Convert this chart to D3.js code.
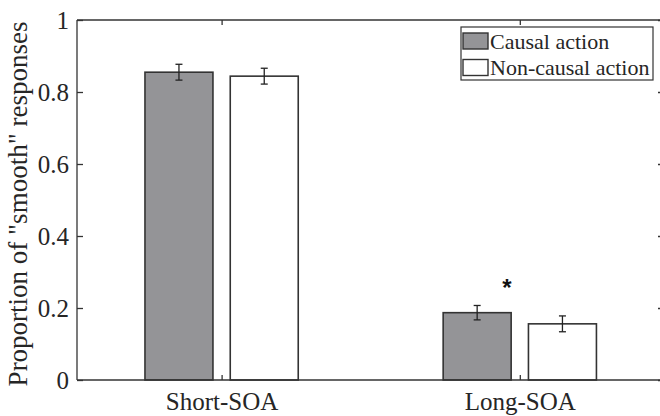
<!DOCTYPE html>
<html><head><meta charset="utf-8">
<script src="https://cdn.jsdelivr.net/npm/d3@7"></script>
<style>html,body{margin:0;padding:0;background:#fff;}svg{display:block;}
.serif{font-family:"Liberation Serif","Times New Roman",Times,"Nimbus Roman","DejaVu Serif",serif;}
</style>
</head><body>
<script>
const categories = ["Short-SOA", "Long-SOA"];
const seriesNames = ["Causal action", "Non-causal action"];
const causalValues = [0.855, 0.187];
const causalErrors = [0.022, 0.020];
const noncausalValues = [0.844, 0.156];
const noncausalErrors = [0.022, 0.022];
const yTicks = [0, 0.2, 0.4, 0.6, 0.8, 1];
const yTickLabels = ["0", "0.2", "0.4", "0.6", "0.8", "1"];
const yLabel = 'Proportion of "smooth" responses';
const significance = ["", "*"];

(function () {
const W = 660, H = 416;
const axisColor = "#333";
const textColor = "#262626";
const fills = ["#949497", "#ffffff"];

const svg = d3.select("body").append("svg").attr("width", W).attr("height", H);

const mLeft = 77, mRight = 664, mTop = 20, mBottom = 380;
const x = d3.scaleLinear().domain([1, 2]).range([221.6, 519.8]);
const y = d3.scaleLinear().domain([0, 1]).range([mBottom, mTop]);
const unit = x(2) - x(1);
const offsets = [-0.143, 0.143];
const barW = 0.228;

const series = [
  {name: seriesNames[0], values: causalValues, errs: causalErrors, fill: fills[0]},
  {name: seriesNames[1], values: noncausalValues, errs: noncausalErrors, fill: fills[1]}
];

series.forEach((s, si) => {
  const g = svg.append("g");
  g.selectAll("rect").data(s.values).join("rect")
    .attr("x", (d, i) => x(i + 1 + offsets[si] - barW / 2))
    .attr("width", barW * unit)
    .attr("y", d => y(d))
    .attr("height", d => y(0) - y(d))
    .attr("fill", s.fill)
    .attr("stroke", axisColor)
    .attr("stroke-width", 1.6);
  s.values.forEach((v, i) => {
    const cx = x(i + 1 + offsets[si]);
    const e = s.errs[i];
    const eg = svg.append("g").attr("stroke", "#222").attr("stroke-width", 1.3);
    eg.append("line").attr("x1", cx).attr("x2", cx).attr("y1", y(v - e)).attr("y2", y(v + e));
    eg.append("line").attr("x1", cx - 3.5).attr("x2", cx + 3.5).attr("y1", y(v - e)).attr("y2", y(v - e));
    eg.append("line").attr("x1", cx - 3.5).attr("x2", cx + 3.5).attr("y1", y(v + e)).attr("y2", y(v + e));
  });
});

const box = svg.append("g").attr("stroke", axisColor).attr("stroke-width", 1.3).attr("fill", "none");
box.append("line").attr("x1", mLeft).attr("x2", mRight).attr("y1", mBottom).attr("y2", mBottom);
box.append("line").attr("x1", mLeft).attr("x2", mRight).attr("y1", mTop).attr("y2", mTop);
box.append("line").attr("x1", mLeft).attr("x2", mLeft).attr("y1", mTop).attr("y2", mBottom);
box.append("line").attr("x1", mRight).attr("x2", mRight).attr("y1", mTop).attr("y2", mBottom);

const yAxis = d3.axisLeft(y).tickValues(yTicks).tickFormat((d, i) => yTickLabels[i]).tickSizeInner(-6).tickSizeOuter(0).tickPadding(8);
const ya = svg.append("g").attr("transform", `translate(${mLeft},0)`).call(yAxis);
ya.attr("font-family", null).attr("font-size", null);
ya.select(".domain").remove();
ya.selectAll(".tick line").attr("stroke", axisColor).attr("stroke-width", 1.3);
ya.selectAll(".tick text").attr("class", "serif").style("font-size", "25px").attr("fill", textColor);

const yAxisR = d3.axisRight(y).tickValues(yTicks).tickFormat("").tickSizeInner(-6).tickSizeOuter(0);
const yr = svg.append("g").attr("transform", `translate(${mRight},0)`).call(yAxisR);
yr.select(".domain").remove();
yr.selectAll(".tick line").attr("stroke", axisColor).attr("stroke-width", 1.3);

const xAxis = d3.axisBottom(x).tickValues([1, 2]).tickFormat((d, i) => categories[i]).tickSizeInner(-5).tickSizeOuter(0).tickPadding(12);
const xa = svg.append("g").attr("transform", `translate(0,${mBottom})`).call(xAxis);
xa.attr("font-family", null).attr("font-size", null);
xa.select(".domain").remove();
xa.selectAll(".tick line").attr("stroke", axisColor).attr("stroke-width", 1.3);
xa.selectAll(".tick text").attr("class", "serif").style("font-size", "25px").attr("fill", textColor);

const xAxisT = d3.axisTop(x).tickValues([1, 2]).tickFormat("").tickSizeInner(-5).tickSizeOuter(0);
const xt = svg.append("g").attr("transform", `translate(0,${mTop})`).call(xAxisT);
xt.select(".domain").remove();
xt.selectAll(".tick line").attr("stroke", axisColor).attr("stroke-width", 1.3);

svg.append("text").attr("class", "serif").attr("transform", `translate(27,204) rotate(-90)`)
  .attr("text-anchor", "middle").style("font-size", "27px").attr("fill", textColor)
  .text(yLabel);

significance.forEach((s, i) => {
  if (!s) return;
  svg.append("text").attr("x", x(i + 1) - 13).attr("y", y(Math.max(causalValues[i] + causalErrors[i], noncausalValues[i] + noncausalErrors[i])) - 9)
    .attr("text-anchor", "middle").style("font-family", "'Liberation Sans', Arial, sans-serif")
    .style("font-size", "24px").style("font-weight", "bold").attr("fill", "#111").text(s);
});

const lg = svg.append("g");
lg.append("rect").attr("x", 461).attr("y", 27).attr("width", 192).attr("height", 53)
  .attr("fill", "#fff").attr("stroke", axisColor).attr("stroke-width", 1.2);
series.forEach((s, i) => {
  const yy = 33 + i * 26.5;
  lg.append("rect").attr("x", 463).attr("y", yy).attr("width", 25).attr("height", 16)
    .attr("fill", s.fill).attr("stroke", axisColor).attr("stroke-width", 1.4);
  lg.append("text").attr("class", "serif").attr("x", 490).attr("y", yy + 15.5)
    .style("font-size", "22px").attr("fill", textColor).text(s.name);
});
})();
</script>
</body></html>
